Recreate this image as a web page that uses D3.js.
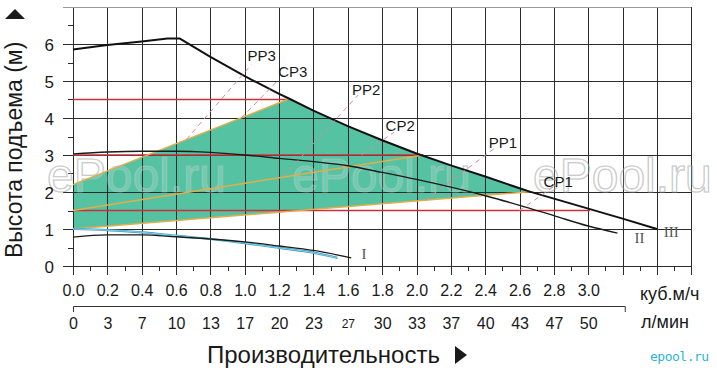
<!DOCTYPE html>
<html><head><meta charset="utf-8">
<script src="https://cdn.jsdelivr.net/npm/d3@7/dist/d3.min.js"></script>
<style>
html,body{margin:0;padding:0;background:#fff;}
svg{display:block;font-family:"Liberation Sans",Arial,sans-serif;}
</style></head>
<body>
<svg id="chart" width="717" height="368"></svg>
<script>
// ---- data ----
const flowM3 = [0.0,0.2,0.4,0.6,0.8,1.0,1.2,1.4,1.6,1.8,2.0,2.2,2.4,2.6,2.8,3.0];
const flowLmin = ["0","3","7","10","13","17","20","23","27","30","33","37","40","43","47","50"];
const headTicks = [0,1,2,3,4,5,6];
const gridX = [0,0.2,0.4,0.6,0.8,1.0,1.2,1.4,1.6,1.8,2.0,2.2,2.4,2.6,2.8,3.0,3.2,3.4,3.6];
const minorX = [0.1,0.3,0.5,0.7,0.9,1.1,1.3,1.5,1.7,1.9,2.1,2.3,2.5,2.7,2.9,3.1,3.3,3.5];
const gridY = [0,1,2,3,4,5,6,7];
const minorY = [0.5,1.5,2.5,3.5,4.5,5.5,6.5];

// pump curves (flow m3/h, head m)
const curveIII = [[0,5.85],[0.2,5.97],[0.4,6.07],[0.55,6.15],[0.62,6.15],[0.8,5.65],[1.0,5.13],[1.2,4.65],[1.26,4.52],[1.4,4.2],[1.6,3.78],[1.8,3.4],[2.0,3.04],[2.2,2.72],[2.4,2.42],[2.6,2.1],[2.66,2.01],[2.8,1.82],[3.0,1.55],[3.2,1.28],[3.4,1.0]];
const curveII = [[0,3.03],[0.2,3.08],[0.4,3.1],[0.6,3.1],[0.8,3.07],[1.0,3.0],[1.2,2.91],[1.4,2.82],[1.6,2.71],[1.8,2.53],[2.0,2.34],[2.2,2.13],[2.4,1.9],[2.6,1.64],[2.8,1.36],[3.0,1.08],[3.17,0.89]];
const curveI = [[0,0.78],[0.2,0.84],[0.4,0.84],[0.6,0.79],[0.8,0.73],[1.0,0.65],[1.2,0.54],[1.4,0.42],[1.62,0.22]];
const curveBlue = [[0,1.0],[0.2,0.97],[0.4,0.91],[0.6,0.82],[0.8,0.73],[1.0,0.62],[1.2,0.49],[1.4,0.36],[1.54,0.22]];
// control area
const areaZone = [[0,1.0],[0,2.2],[1.26,4.52],[1.4,4.2],[1.6,3.78],[1.8,3.4],[2.0,3.04],[2.2,2.72],[2.4,2.42],[2.6,2.1],[2.66,2.01]];
// proportional pressure lines (yellow)
const ppLines = [[[0,1.0],[2.66,2.01]],[[0,1.5],[2.04,3.0]],[[0,2.2],[1.26,4.52]]];
// constant pressure lines (red)
const cpLines = [[[0,4.5],[1.26,4.5]],[[0,3.0],[2.04,3.0]],[[0,1.5],[3.01,1.5]]];
// label leaders (dashed)
const leaders = [
  {label:"PP3", from:[0.66,3.42], to:[1.04,5.45], tx:1.016, ty:5.55},
  {label:"CP3", from:[0.98,4.0], to:[1.2,5.05], tx:1.195, ty:5.12},
  {label:"PP2", from:[1.22,2.4], to:[1.66,4.62], tx:1.625, ty:4.62},
  {label:"CP2", from:[1.68,3.0], to:[1.87,3.62], tx:1.82, ty:3.65},
  {label:"PP1", from:[2.05,1.77], to:[2.46,3.2], tx:2.42, ty:3.2},
  {label:"CP1", from:[2.6,1.5], to:[2.8,2.15], tx:2.74, ty:2.13}
];
const romanLabels = [{t:"I", x:1.68, y:0.2},{t:"II", x:3.27, y:0.62},{t:"III", x:3.44, y:0.78}];

// ---- scales ----
const svg = d3.select("#chart");
const x = d3.scaleLinear().domain([0,3.6]).range([73,691.3]);
const y = d3.scaleLinear().domain([0,7]).range([266,7]);
const line = d3.line().x(d=>x(d[0])).y(d=>y(d[1]));
const smooth = d3.line().x(d=>x(d[0])).y(d=>y(d[1])).curve(d3.curveMonotoneX);

// watermarks (under)
const wm = svg.append("g");
[47,292,533].forEach(px=>{
  wm.append("text").attr("x",px).attr("y",192).text("ePool.ru")
    .attr("font-size",48).attr("fill","#ffffff").attr("fill-opacity",0.35)
    .attr("stroke","#9a9a9a").attr("stroke-opacity",0.5).attr("stroke-width",1.2);
});

// green area
svg.append("path").attr("d", line(areaZone)+"Z").attr("fill","#55c3a2");

// grid
const grid = svg.append("g").attr("stroke","#2b2b2b").attr("stroke-width",1).attr("shape-rendering","crispEdges");
grid.selectAll("line.v").data(gridX).join("line")
  .attr("x1",d=>Math.round(x(d))+0.5).attr("x2",d=>Math.round(x(d))+0.5)
  .attr("y1",y(7)).attr("y2",275);
grid.selectAll("line.h").data(gridY).join("line")
  .attr("x1",63).attr("x2",x(3.6))
  .attr("y1",d=>Math.round(y(d))+0.5).attr("y2",d=>Math.round(y(d))+0.5)
  .attr("stroke",d=>d===7?"#9a9a9a":"#2b2b2b");
grid.selectAll("line.mx").data(minorX).join("line")
  .attr("x1",d=>Math.round(x(d))+0.5).attr("x2",d=>Math.round(x(d))+0.5)
  .attr("y1",266).attr("y2",271);
grid.selectAll("line.my").data(minorY).join("line")
  .attr("x1",68).attr("x2",73)
  .attr("y1",d=>Math.round(y(d))+0.5).attr("y2",d=>Math.round(y(d))+0.5);

// watermark overlay on green (faint)
const wm2 = svg.append("g");
[47,292,533].forEach(px=>{
  wm2.append("text").attr("x",px).attr("y",192).text("ePool.ru")
    .attr("font-size",48).attr("fill","#ffffff").attr("fill-opacity",0.18)
    .attr("stroke","#c4c4c4").attr("stroke-opacity",0.45).attr("stroke-width",1.2);
});

// red constant-pressure lines
svg.append("g").selectAll("path").data(cpLines).join("path")
  .attr("d",line).attr("stroke","#c9303c").attr("stroke-width",1.3).attr("fill","none");
// yellow proportional lines
svg.append("g").selectAll("path").data(ppLines).join("path")
  .attr("d",line).attr("stroke","#e3ad4c").attr("stroke-width",1.5).attr("fill","none");

// blue curve
svg.append("path").attr("d",smooth(curveBlue)).attr("stroke","#3a9cc0").attr("stroke-width",2.2).attr("fill","none");
svg.append("path").attr("d",smooth(curveBlue)).attr("stroke","#8fd6ec").attr("stroke-width",0.9).attr("fill","none");

// black curves
svg.append("path").attr("d",smooth(curveI)).attr("stroke","#1a1a1a").attr("stroke-width",1.3).attr("fill","none");
svg.append("path").attr("d",smooth(curveII)).attr("stroke","#1a1a1a").attr("stroke-width",1.4).attr("fill","none");
svg.append("path").attr("d",line(curveIII)).attr("stroke","#111").attr("stroke-width",2).attr("fill","none").attr("stroke-linejoin","round");

// leaders and labels
const lg = svg.append("g");
lg.selectAll("line").data(leaders).join("line")
  .attr("x1",d=>x(d.from[0])).attr("y1",d=>y(d.from[1]))
  .attr("x2",d=>x(d.to[0])).attr("y2",d=>y(d.to[1]))
  .attr("stroke","#d98a9c").attr("stroke-width",1).attr("stroke-dasharray","5,4");
lg.selectAll("text").data(leaders).join("text")
  .attr("x",d=>x(d.tx)).attr("y",d=>y(d.ty)).text(d=>d.label)
  .attr("font-size",15).attr("fill","#1a1a1a");

svg.append("g").selectAll("text").data(romanLabels).join("text")
  .attr("x",d=>x(d.x)).attr("y",d=>y(d.y)).text(d=>d.t)
  .attr("font-family","'Liberation Serif','DejaVu Serif',serif")
  .attr("font-size",15).attr("fill","#555");

// axes labels
const ax1 = svg.append("g").attr("transform","translate(0,285)")
  .call(d3.axisBottom(x).tickValues(flowM3).tickFormat(d3.format(".1f")).tickSize(0).tickPadding(0));
ax1.select(".domain").remove();
ax1.selectAll("text").attr("font-size",16).attr("font-family","'Liberation Sans',Arial,sans-serif").attr("fill","#1a1a1a");

const ax2 = svg.append("g").attr("transform","translate(0,318)")
  .call(d3.axisBottom(x).tickValues(flowM3).tickFormat((d,i)=>flowLmin[i]).tickSize(0).tickPadding(0));
ax2.select(".domain").remove();
ax2.selectAll("text").attr("font-size",(d,i)=>flowLmin[i]==="27"?12:16)
  .attr("dy",(d,i)=>flowLmin[i]==="27"?"0.85em":"0.71em")
  .attr("font-family","'Liberation Sans',Arial,sans-serif").attr("fill","#1a1a1a");

const ay = svg.append("g").attr("transform","translate(54,0)")
  .call(d3.axisLeft(y).tickValues(headTicks).tickFormat(d3.format("d")).tickSize(0).tickPadding(0));
ay.select(".domain").remove();
ay.selectAll("text").attr("font-size",17).attr("dy","0.4em").attr("font-family","'Liberation Sans',Arial,sans-serif").attr("fill","#1a1a1a");

// bracket under first row
svg.append("path").attr("d",`M${x(0)+0.5},312V306.5H${x(3.0)+37}V312`)
  .attr("stroke","#333").attr("stroke-width",1).attr("fill","none");

// unit labels
svg.append("text").attr("x",640).attr("y",300).text("куб.м/ч").attr("font-size",18).attr("fill","#1a1a1a");
svg.append("text").attr("x",641).attr("y",328).text("л/мин").attr("font-size",18).attr("fill","#1a1a1a");

// x title
svg.append("text").attr("x",207).attr("y",363).text("Производительность").attr("font-size",24).attr("fill","#1a1a1a");
svg.append("path").attr("d","M455,346L467,355L455,364Z").attr("fill","#1a1a1a");

// y title
svg.append("text").attr("transform","translate(22,258) rotate(-90)").attr("x",0).attr("y",0)
  .text("Высота подъема (м)").attr("font-size",23).attr("fill","#1a1a1a");
svg.append("path").attr("d","M5,19L15,9L25,19Z").attr("fill","#1a1a1a");

// small watermark
svg.append("text").attr("x",650).attr("y",361).text("epool.ru").attr("font-size",13)
  .attr("font-family","'DejaVu Sans Mono',monospace").attr("fill","#2ab4e2").attr("letter-spacing","-0.5");
</script>
</body></html>
